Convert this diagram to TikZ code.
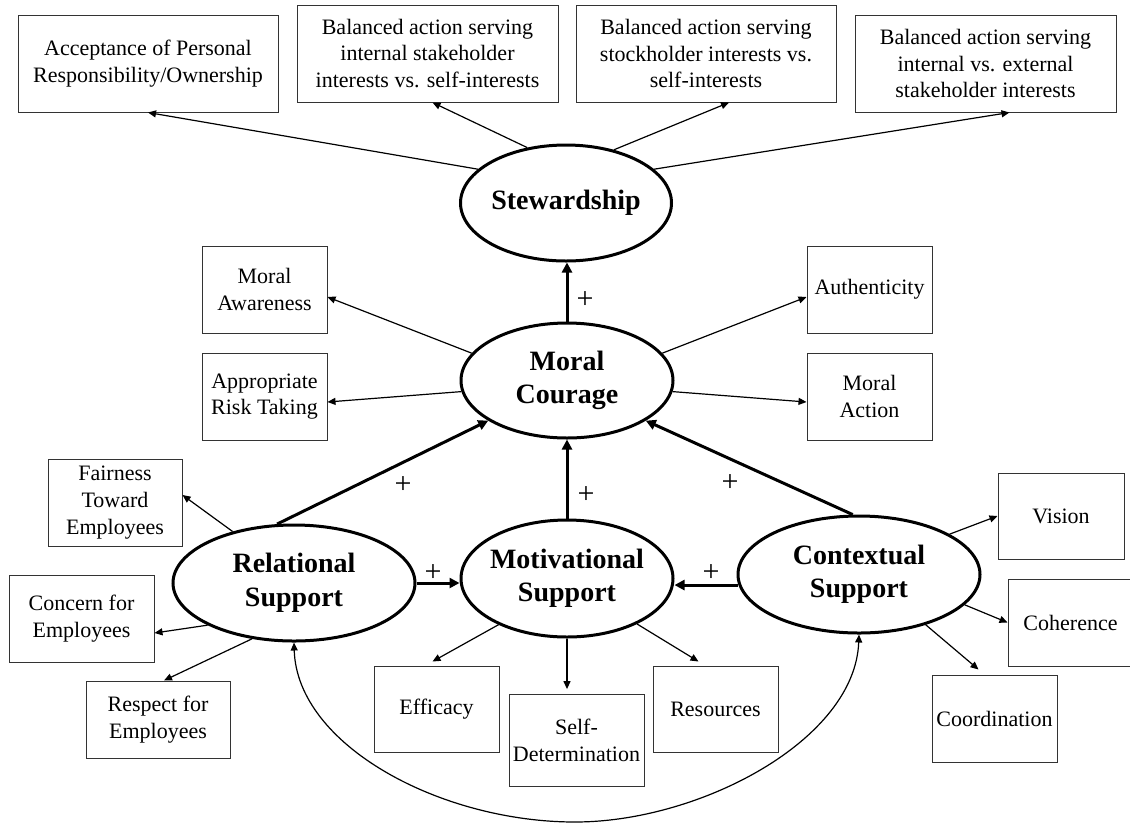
\documentclass[tikz,border=0pt]{standalone}
\usepackage{fontspec}
\setmainfont{Liberation Serif}
\usetikzlibrary{arrows.meta,calc,shapes.geometric}

\begin{document}
\begin{tikzpicture}[x=1pt,y=-1pt,
  box/.style={draw=black!80, line width=1pt, rectangle, inner sep=0pt, align=center,
              font=\fontsize{22}{26.7}\selectfont},
  factor/.style={draw, ellipse, line width=3pt, align=center, inner sep=0pt, inner xsep=-12pt,
                 font=\fontsize{28}{33.5}\selectfont\bfseries},
  link/.style={line width=1.2pt, -{Triangle[length=8pt,width=7pt]}},
  twolink/.style={line width=1.2pt, {Triangle[length=8pt,width=7pt]}-{Triangle[length=8pt,width=7pt]}},
  strong/.style={line width=3pt, -{Triangle[length=10pt,width=10pt]}},
  plus/.style={font=\fontsize{30}{30}\selectfont, inner sep=0pt}
]
\useasboundingbox (0,0) rectangle (1130,823);

% central constructs
\node[factor, minimum width=211pt, minimum height=116pt] (S)  at (566,203)   {Stewardship};
\node[factor, minimum width=212pt, minimum height=115pt] (MC) at (567,380.5) {Moral\\Courage};
\node[factor, minimum width=242pt, minimum height=116pt] (R)  at (294,583)   {Relational\\Support};
\node[factor, minimum width=212pt, minimum height=117pt] (M)  at (567,578.5) {Motivational\\Support};
\node[factor, minimum width=242pt, minimum height=117pt] (X)  at (859,574.5) {Contextual\\Support};

% stewardship outcomes
\node[box, minimum width=260pt, minimum height=97pt] (A) at (148,63.5)
  {Acceptance of Personal\\Responsibility/Ownership};
\node[box, minimum width=261pt, minimum height=97pt] (B) at (427.5,53.5)
  {Balanced action serving\\internal stakeholder\\interests vs. self-interests};
\node[box, minimum width=260pt, minimum height=97pt] (C) at (706,53.5)
  {Balanced action serving\\stockholder interests vs.\\self-interests};
\node[box, minimum width=261pt, minimum height=97pt] (D) at (985.5,63.5)
  {Balanced action serving\\internal vs. external\\stakeholder interests};

% moral courage facets
\node[box, minimum width=125pt, minimum height=87pt] (MA)  at (264.5,289.5) {Moral\\Awareness};
\node[box, minimum width=125pt, minimum height=87pt] (ART) at (264.5,396.5) {Appropriate\\Risk Taking};
\node[box, minimum width=125pt, minimum height=87pt] (AU)  at (869.5,289.5) {Authenticity};
\node[box, minimum width=125pt, minimum height=87pt] (MAC) at (869.5,396.5) {Moral\\Action};

% relational support facets
\node[box, minimum width=134pt, minimum height=87pt] (F)  at (115,502.5)   {Fairness\\Toward\\Employees};
\node[box, minimum width=145pt, minimum height=87pt] (CO) at (81.5,618.5)  {Concern for\\Employees};
\node[box, minimum width=144pt, minimum height=77pt] (RE) at (158,719.5)   {Respect for\\Employees};

% motivational support facets
\node[box, minimum width=125pt, minimum height=86pt] (EF) at (436.5,709)   {Efficacy};
\node[box, minimum width=135pt, minimum height=92pt] (SD) at (576.5,740.6) {Self-\\Determination};
\node[box, minimum width=125pt, minimum height=86pt] (RS) at (715.5,709)   {Resources};

% contextual support facets
\node[box, minimum width=126pt, minimum height=86pt] (V)  at (1061,516)    {Vision};
\node[box, minimum width=125pt, minimum height=87pt] (CH) at (1070.5,622.5) {Coherence};
\node[box, minimum width=125pt, minimum height=87pt] (CD) at (994.5,718.5) {Coordination};

% stewardship -> outcomes
\draw[link] (S.159) -- (A.south);
\draw[link] (S.125) -- ($(B.south)+(5,0)$);
\draw[link] (S.48)  -- ($(C.south)+(23,0)$);
\draw[link] (S.21)  -- ($(D.south)+(24,0)$);

% moral courage -> stewardship and facets
\draw[strong] (MC.north) -- (MC.north |- S.south);
\draw[link] (MC.164) -- ($(MA.east)+(0,7.5)$);
\draw[link] (MC.186) -- ($(ART.east)+(0,5.5)$);
\draw[link] (MC.16)  -- ($(AU.west)+(0,7.5)$);
\draw[link] (MC.-6)  -- ($(MAC.west)+(0,5.5)$);

% supports -> moral courage
\draw[strong] (R.106) -- (MC.207);
\draw[strong] (M.north) -- (M.north |- MC.south);
\draw[strong] (X.96) -- (MC.-27);

% relational and contextual -> motivational
\draw[strong] (R.east) -- (R.east -| M.west);
\draw[strong] (X.185) -- (X.185 -| M.east);

% relational facets
\draw[link] (R.140) -- ($(F.east)+(0,-7.5)$);
\draw[link] (R.206) -- ($(CO.east)+(0,14.5)$);
\draw[link] (R.233) -- ($(RE.north)+(6,0)$);

% motivational facets
\draw[link] (M.214) -- ($(EF.north)+(-4,-4)$);
\draw[link] (M.south) -- ($(M.south |- SD.north)+(0,-5)$);
\draw[link] (M.-33) -- ($(RS.north)+(-17,-4)$);

% contextual facets
\draw[link] (X.24)  -- (V.west);
\draw[link] (X.-16) -- (CH.west);
\draw[link] (X.-37) -- ($(CD.north)+(-16,-5)$);

% relational <-> contextual
\draw[twolink] (R.south) .. controls (297,745) and (440,822) .. (575,822)
                         .. controls (700,822) and (855,740) .. (X.south);

% signs
\node[plus] (p1) at (585,300) {+};
\node[plus] (p2) at (403,485) {+};
\node[plus] (p3) at (586,495) {+};
\node[plus] (p4) at (730,483) {+};
\node[plus] (p5) at (433,573) {+};
\node[plus] (p6) at (711,573) {+};
\end{tikzpicture}
\end{document}
